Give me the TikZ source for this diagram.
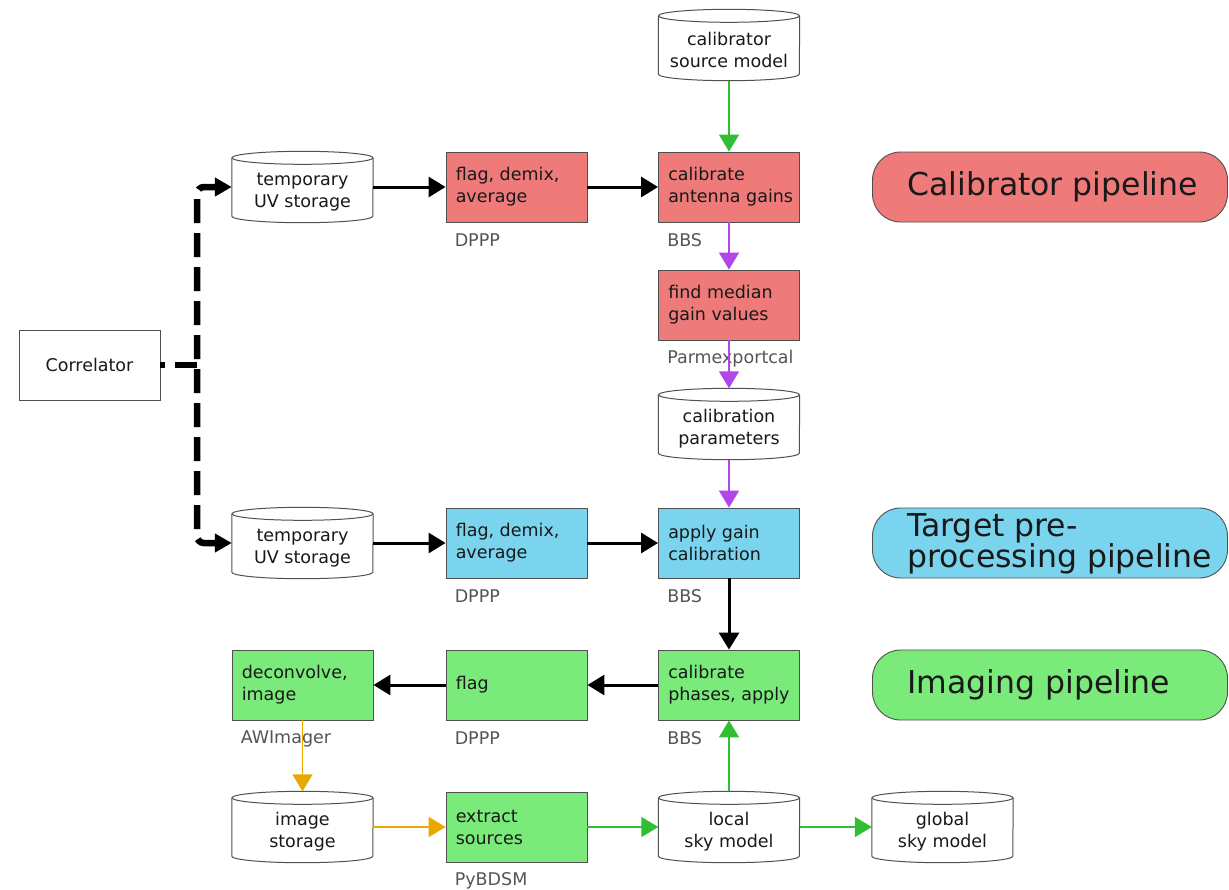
\documentclass[tikz,border=0pt]{standalone}
\usepackage{fontspec}
\setmainfont{DejaVu Sans}
\usetikzlibrary{arrows.meta}
\definecolor{redf}{RGB}{238,122,122}
\definecolor{bluef}{RGB}{122,212,238}
\definecolor{greenf}{RGB}{122,234,122}
\definecolor{bordc}{RGB}{80,80,80}
\definecolor{txtc}{RGB}{25,25,25}
\definecolor{labc}{RGB}{85,85,85}
\definecolor{agreen}{RGB}{50,190,50}
\definecolor{apurple}{RGB}{178,70,232}
\definecolor{aorange}{RGB}{232,168,0}
\newcommand\nfont{\fontsize{17.5}{22}\selectfont}
\newcommand\pfont{\fontsize{31.5}{30}\selectfont}
\tikzset{
  box/.style={draw=bordc, line width=0.9pt, minimum width=141pt, minimum height=70pt, inner sep=0pt},
  redbox/.style={box, fill=redf},
  bluebox/.style={box, fill=bluef},
  greenbox/.style={box, fill=greenf},
  boxtext/.style={anchor=west, align=left, font=\nfont, text=txtc, inner sep=0pt},
  plainbox/.style={draw=bordc, line width=0.9pt, minimum width=141pt, minimum height=70pt, inner sep=0pt, font=\nfont, text=txtc},
  cylbox/.style={minimum width=141pt, minimum height=71pt, inner sep=0pt},
  cyltext/.style={align=center, font=\nfont, text=txtc, inner sep=0pt},
  cylline/.style={draw=bordc, line width=1pt},
  lab/.style={anchor=west, font=\nfont, text=labc, inner sep=0pt},
  pill/.style={draw=bordc, line width=0.9pt, minimum width=355pt, minimum height=70pt, rounded corners=28pt, inner sep=0pt},
  pilltext/.style={anchor=west, align=left, font=\pfont, text=txtc, inner sep=0pt},
  tipbig/.style={-{Triangle[length=17pt,width=20pt]}},
  blk/.style={tipbig, line width=3pt, black},
  grn/.style={tipbig, line width=1.8pt, agreen},
  pur/.style={tipbig, line width=1.8pt, apurple},
  org/.style={tipbig, line width=1.8pt, aorange},
  dshline/.style={line width=6.5pt, black, dash pattern=on 24pt off 10pt},
  dshboth/.style={dshline, {Triangle[length=17pt,width=18pt]}-{Triangle[length=17pt,width=18pt]}, rounded corners=7pt},
}
\newcommand\mycyl[3]{%
  \node[cylbox] (#1) at (#2) {};
  \draw[cylline] ([yshift=-6.5pt]#1.north west) -- ([yshift=6.5pt]#1.south west)
    arc[start angle=180,end angle=360,x radius=70.5pt,y radius=6.5pt] -- ([yshift=-6.5pt]#1.north east);
  \draw[cylline] ([yshift=-6.5pt]#1.north) ellipse[x radius=70.5pt,y radius=6.5pt];
  \node[cyltext] (#1t) at ([yshift=-5pt]#1.center) {#3};
}
\newcommand\mybox[4]{%
  \node[#1] (#2) at (#3) {};
  \node[boxtext] (#2t) at ([xshift=10pt]#2.west) {#4};
}
\begin{document}
\begin{tikzpicture}[x=1pt,y=-1pt]
\useasboundingbox[fill=white] (0,0) rectangle (1229,889);

% plain box
\node[plainbox] (corr) at (89.5,365) {Correlator};

% cylinders
\mycyl{csm}{729,45}{calibrator\\source model}
\mycyl{tmpA}{302.5,187}{temporary\\UV storage}
\mycyl{cp}{729,424}{calibration\\parameters}
\mycyl{tmpB}{302.5,543}{temporary\\UV storage}
\mycyl{ims}{302.5,827}{image\\storage}
\mycyl{lsm}{729,827}{local\\sky model}
\mycyl{gsm}{942.5,827}{global\\sky model}

% calibrator pipeline boxes
\mybox{redbox}{fdaA}{516.5,187}{flag, demix,\\average}
\mybox{redbox}{cag}{729,187}{calibrate\\antenna gains}
\mybox{redbox}{fmg}{729,305}{find median\\gain values}

% target boxes
\mybox{bluebox}{fdaB}{516.5,543}{flag, demix,\\average}
\mybox{bluebox}{agc}{729,543}{apply gain\\calibration}

% imaging boxes
\mybox{greenbox}{dec}{302.5,685}{deconvolve,\\image}
\mybox{greenbox}{flg}{516.5,685}{flag}
\mybox{greenbox}{cpa}{729,685}{calibrate\\phases, apply}
\mybox{greenbox}{exs}{516.5,827}{extract\\sources}

% tool labels
\node[lab] (l1) at ([xshift=9pt,yshift=-18pt]fdaA.south west) {DPPP};
\node[lab] (l2) at ([xshift=9pt,yshift=-18pt]cag.south west) {BBS};
\node[lab] (l3) at ([xshift=9pt,yshift=-18pt]fmg.south west) {Parmexportcal};
\node[lab] (l4) at ([xshift=9pt,yshift=-18pt]fdaB.south west) {DPPP};
\node[lab] (l5) at ([xshift=9pt,yshift=-18pt]agc.south west) {BBS};
\node[lab] (l6) at ([xshift=9pt,yshift=-18pt]dec.south west) {AWImager};
\node[lab] (l7) at ([xshift=9pt,yshift=-18pt]flg.south west) {DPPP};
\node[lab] (l8) at ([xshift=9pt,yshift=-18pt]cpa.south west) {BBS};
\node[lab] (l9) at ([xshift=9pt,yshift=-18pt]exs.south west) {PyBDSM};

% pipeline pills
\node[pill, fill=redf] (p1) at (1050,187) {};
\node[pilltext] (p1t) at ([xshift=35pt]p1.west) {Calibrator pipeline};
\node[pill, fill=bluef] (p2) at (1050,543) {};
\node[pilltext] (p2t) at ([xshift=35pt,yshift=-1pt]p2.west) {Target pre-\\processing pipeline};
\node[pill, fill=greenf] (p3) at (1050,685) {};
\node[pilltext] (p3t) at ([xshift=35pt]p3.west) {Imaging pipeline};

% dashed correlator links
\coordinate (jn) at (197,365);
\draw[dshline, dash phase=19pt] (corr.east) -- (jn);
\draw[dshboth, dash phase=6pt] (tmpA.west) -| (jn) |- (tmpB.west);

% black arrows
\draw[blk] (tmpA.east) -- (fdaA.west);
\draw[blk] (fdaA.east) -- (cag.west);
\draw[blk] (tmpB.east) -- (fdaB.west);
\draw[blk] (fdaB.east) -- (agc.west);
\draw[blk] (agc.south) -- (cpa.north);
\draw[blk] (cpa.west) -- (flg.east);
\draw[blk] (flg.west) -- (dec.east);

% green
\draw[grn] (csm.south) -- (cag.north);
\draw[grn] (exs.east) -- (lsm.west);
\draw[grn] (lsm.north) -- (cpa.south);
\draw[grn] (lsm.east) -- (gsm.west);

% purple
\draw[pur] (cag.south) -- (fmg.north);
\draw[pur] (fmg.south) -- (cp.north);
\draw[pur] (cp.south) -- (agc.north);

% orange
\draw[org] (dec.south) -- (ims.north);
\draw[org] (ims.east) -- (exs.west);
\end{tikzpicture}
\end{document}
